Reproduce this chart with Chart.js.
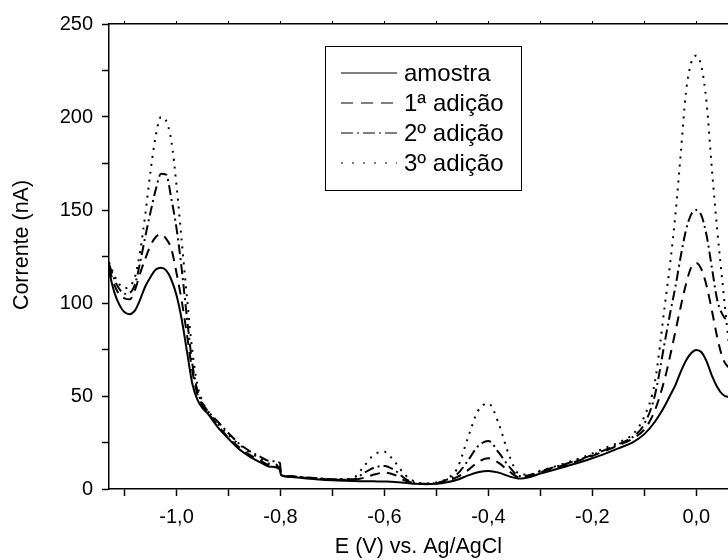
<!DOCTYPE html>
<html>
<head>
<meta charset="utf-8">
<script src="https://cdn.jsdelivr.net/npm/chart.js@4/dist/chart.umd.min.js"></script>
<style>
  html, body { margin: 0; padding: 0; background: #fff; overflow: hidden; }
</style>
</head>
<body>
<canvas id="chart" width="728" height="560"></canvas>
<script>
// potential (V vs. Ag/AgCl) shared by all four scans
const potencial = [
  -1.13, -1.12, -1.11, -1.10, -1.09, -1.08, -1.07, -1.06, -1.05, -1.04,
  -1.03, -1.02, -1.01, -1.00, -0.99, -0.98, -0.97, -0.96, -0.95, -0.94,
  -0.92, -0.90, -0.88, -0.86, -0.84, -0.82, -0.801, -0.799, -0.78, -0.75,
  -0.72, -0.69, -0.66, -0.64, -0.62, -0.60, -0.58, -0.56, -0.54, -0.52,
  -0.50, -0.48, -0.46, -0.44, -0.42, -0.40, -0.38, -0.36, -0.34, -0.32,
  -0.30, -0.27, -0.24, -0.21, -0.18, -0.15, -0.12, -0.10, -0.08, -0.06,
  -0.05, -0.04, -0.03, -0.02, -0.01, 0.00, 0.01, 0.02, 0.03, 0.04,
  0.05, 0.06, 0.07
];

// corrente (nA)
const amostra = [
  117, 106, 99, 95, 94, 96, 102, 109, 114, 118,
  119, 117.5, 112.5, 104, 91, 74, 57, 48, 43.5, 40.5,
  33, 27, 21.5, 17.5, 14.5, 12, 10.5, 7.5, 6.5, 5.6,
  5, 4.6, 4.3, 4.2, 4.1, 4.0, 3.8, 3.3, 2.8, 2.6,
  2.8, 3.6, 5, 7.2, 9, 9.7, 8.8, 6.8, 5.6, 6.5,
  8.3, 10.6, 13, 15.6, 18.5, 21.8, 25.5, 29.5, 36, 45,
  50.5, 56, 63, 69, 73, 74.7, 73.5, 68.5, 61, 55,
  51, 49.6, 52
];
const adicao1 = [
  119, 110, 104.5, 102.5, 102, 107, 116, 124, 131, 135.5,
  137, 134.5, 129, 116, 101, 83, 64, 51, 45, 41,
  34, 27.5, 22.5, 18.5, 15.5, 12.8, 11.5, 7.5, 6.8, 6,
  5.4, 5, 5, 6, 7.8, 8.8, 7.5, 4.5, 3, 2.7,
  3, 4.3, 6.5, 10, 14.5, 16.5, 14, 9.5, 6.2, 7,
  9, 11.5, 14, 16.8, 20, 23.5, 27.5, 32, 42, 60,
  72, 85, 98, 110, 119, 121.5, 118, 109, 96, 82,
  71, 66, 65
];
const adicao2 = [
  121, 113, 107.5, 105, 105.5, 110, 122, 136, 149, 161,
  169.5, 169, 156, 140, 118, 92, 68, 53, 46, 42,
  36, 30, 24.5, 20.5, 17.5, 15, 14, 7.5, 6.8, 6.2,
  5.6, 5.2, 5.2, 8.5, 11.5, 12.4, 10, 5.5, 3.2, 2.8,
  3.2, 5, 8, 15, 23, 25.8, 19.5, 12, 7, 7.5,
  9.5, 12, 14.5, 17.3, 20.5, 24, 28.5, 35, 50, 80,
  95, 109, 125, 139, 147.5, 150, 147, 136, 119, 102,
  94, 91, 91
];
const adicao3 = [
  122, 115, 110, 108, 109, 114, 128, 148, 171, 190,
  200, 198, 187, 163, 133, 103, 75, 56, 47, 42,
  35, 29, 24, 20, 16.5, 13.5, 12, 7.5, 6.8, 6,
  5.5, 5.2, 6, 12, 18.5, 20, 14.5, 7.5, 3.8, 3,
  3.5, 5.5, 11, 27, 42, 46, 35, 18, 8, 7.8,
  9.8, 12.3, 15, 18, 21.5, 25, 30, 39, 57, 100,
  122, 148, 180, 213, 229, 233, 227, 207, 172, 140,
  112, 85, 60
];

const serieNomes = ['amostra', '1ª adição', '2º adição', '3º adição'];

const xTicks = [-1.1, -1.0, -0.9, -0.8, -0.7, -0.6, -0.5, -0.4, -0.3, -0.2, -0.1, 0.0];
const xTickLabels = ['', '-1,0', '', '-0,8', '', '-0,6', '', '-0,4', '', '-0,2', '', '0,0'];
const yTicks = [0, 25, 50, 75, 100, 125, 150, 175, 200, 225, 250];
const yTickLabels = ['0', '', '50', '', '100', '', '150', '', '200', '', '250'];
const yTitulo = 'Corrente (nA)';

const FONT = '"Liberation Sans", Arial, sans-serif';

function pontos(ys) {
  return ys.map((y, i) => ({ x: potencial[i], y: y }));
}

// legend box inside the plot and the y title (sits a bit above the axis centre in the original)
const extras = {
  id: 'extras',
  afterDraw(chart) {
    const c = chart.ctx;
    c.save();
    c.fillStyle = '#000';
    c.font = '21.5px ' + FONT;
    c.textAlign = 'center';
    c.textBaseline = 'middle';
    c.translate(22, 245);
    c.rotate(-Math.PI / 2);
    c.fillText(yTitulo, 0, 0);
    c.restore();

    c.save();
    c.strokeStyle = '#000';
    c.lineWidth = 1;
    c.strokeRect(325.5, 46.5, 196, 144);
    c.font = '24px ' + FONT;
    c.textBaseline = 'middle';
    c.fillStyle = '#000';
    chart.data.datasets.forEach((ds, i) => {
      const y = 73 + i * 30;
      c.setLineDash(ds.legendDash || []);
      c.lineWidth = ds.borderWidth;
      c.beginPath();
      c.moveTo(341, y);
      c.lineTo(397, y);
      c.stroke();
      c.setLineDash([]);
      c.fillText(ds.label, 404, y + 1);
    });
    c.restore();
  }
};

const ctx = document.getElementById('chart').getContext('2d');
new Chart(ctx, {
  type: 'line',
  data: {
    datasets: [
      { label: serieNomes[0], data: pontos(amostra), borderDash: [], legendDash: [] },
      { label: serieNomes[1], data: pontos(adicao1), borderDash: [10, 7], legendDash: [12, 8] },
      { label: serieNomes[2], data: pontos(adicao2), borderDash: [10, 4, 2, 4], legendDash: [12, 4, 2, 4] },
      { label: serieNomes[3], data: pontos(adicao3), borderDash: [2, 6], legendDash: [2, 9] }
    ]
  },
  options: {
    responsive: false,
    animation: false,
    layout: { padding: 0 },
    plugins: {
      legend: { display: false },
      tooltip: { enabled: false }
    },
    elements: {
      point: { radius: 0 },
      line: {
        borderColor: '#000',
        borderWidth: 2,
        cubicInterpolationMode: 'monotone',
        fill: false
      }
    },
    scales: {
      x: {
        type: 'linear',
        position: 'bottom',
        min: -1.13,
        max: 0.061,
        afterBuildTicks: s => { s.ticks = xTicks.map(v => ({ value: v })); },
        afterFit: s => { s.height = 71; },
        grid: { drawOnChartArea: false, color: '#000', tickLength: 7, tickWidth: 1.5 },
        border: { color: '#000', width: 1.5 },
        ticks: {
          color: '#000',
          font: { family: FONT, size: 20 },
          padding: 9,
          maxRotation: 0,
          autoSkip: false,
          callback: (v, i) => xTickLabels[i]
        },
        title: {
          display: true,
          text: 'E (V) vs. Ag/AgCl',
          color: '#000',
          font: { family: FONT, size: 21.5 },
          padding: { top: 0, bottom: 0 }
        }
      },
      xTop: {
        type: 'linear',
        position: 'top',
        min: -1.13,
        max: 0.061,
        afterBuildTicks: s => { s.ticks = xTicks.map(v => ({ value: v })); },
        afterFit: s => { s.height = 24; },
        grid: { drawOnChartArea: false, color: '#000', tickLength: 3, tickWidth: 1 },
        border: { color: '#000', width: 1.5 },
        ticks: { display: false }
      },
      y: {
        type: 'linear',
        min: 0,
        max: 250,
        afterBuildTicks: s => { s.ticks = yTicks.map(v => ({ value: v })); },
        afterFit: s => { s.width = 109; },
        grid: { drawOnChartArea: false, color: '#000', tickLength: 7, tickWidth: 1.5 },
        border: { color: '#000', width: 1.5 },
        ticks: {
          color: '#000',
          font: { family: FONT, size: 20 },
          padding: 9,
          autoSkip: false,
          callback: (v, i) => yTickLabels[i]
        }
      }
    }
  },
  plugins: [extras]
});
</script>
</body>
</html>
